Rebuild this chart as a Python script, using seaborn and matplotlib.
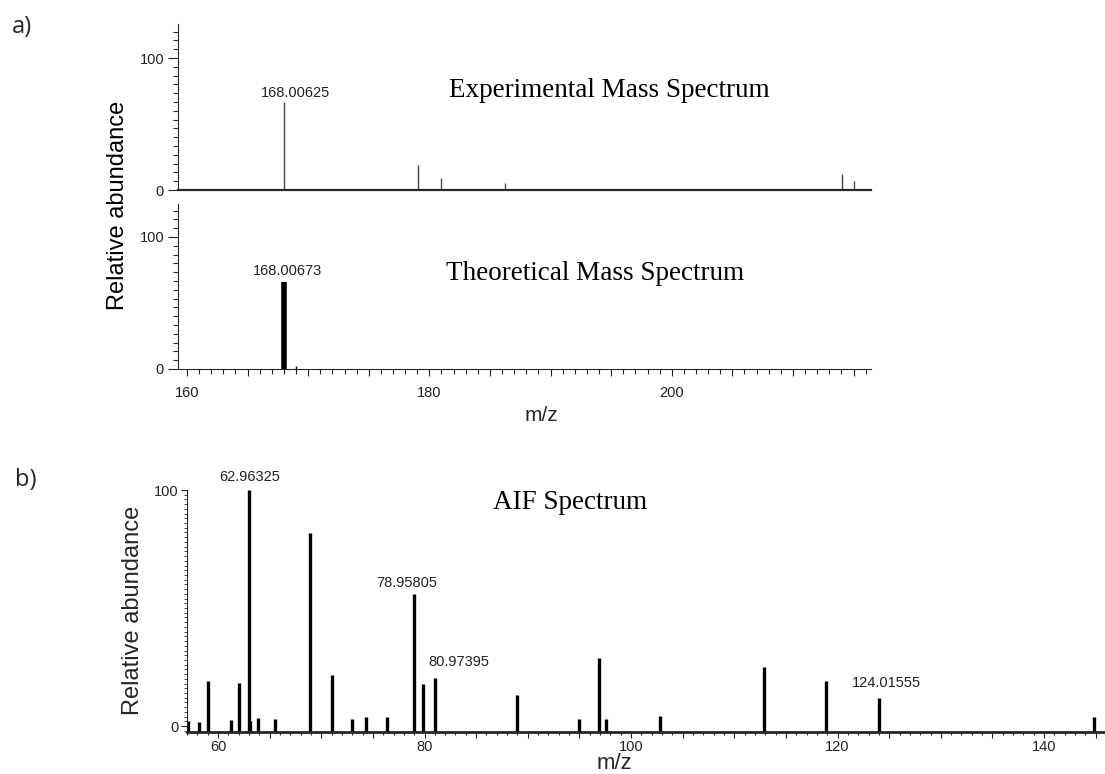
import numpy as np
import pandas as pd
import matplotlib
matplotlib.use("Agg")
import matplotlib.pyplot as plt
import seaborn as sns
from matplotlib.ticker import MultipleLocator, FuncFormatter, FixedLocator

# --- data ---
# a) experimental spectrum
exp_mz = [168.00625, 179.1, 181.0, 186.2, 214.05, 215.0]
exp_int = [66.7, 19.0, 9.3, 5.0, 12.1, 7.0]
# a) theoretical spectrum
theo_mz = [168.00673, 169.0]
theo_int = [66.0, 2.3]
# b) AIF spectrum
aif_mz = [57.1, 58.2, 59.0, 61.3, 62.0, 62.96325, 63.13, 63.9, 65.5, 68.95,
          71.0, 72.95, 74.35, 76.4, 78.95805, 79.9, 80.97395, 88.97, 95.0,
          96.85, 97.6, 102.85, 112.9, 118.9, 124.01555, 144.85]
aif_int = [2.1, 1.8, 19.1, 2.4, 18.4, 100.0, 2.1, 3.3, 3.0, 81.9,
           21.5, 3.0, 3.7, 3.7, 56.0, 18.0, 20.4, 13.2, 3.0,
           29.0, 3.0, 4.4, 25.2, 19.0, 12.0, 4.0]

# labelled peaks and label offsets (pixels)
exp_labels = [("168.00625", 168.00625, 66.7, 11, 5)]
theo_labels = [("168.00673", 168.00673, 66.0, 3, 7)]
aif_labels = [("62.96325", 62.96325, 100.0, 1, 9),
              ("78.95805", 78.95805, 56.0, -7, 7),
              ("80.97395", 80.97395, 20.4, 24, 12),
              ("124.01555", 124.01555, 12.0, 7, 11)]

exp_df = pd.DataFrame({"mz": exp_mz, "intensity": exp_int})
theo_df = pd.DataFrame({"mz": theo_mz, "intensity": theo_int})
aif_df = pd.DataFrame({"mz": aif_mz, "intensity": aif_int})

sns.set_theme(style="ticks")
plt.rcParams["font.family"] = ["Liberation Sans", "DejaVu Sans"]
plt.rcParams["axes.linewidth"] = 0.8

W, H = 1105, 774
fig = plt.figure(figsize=(W / 100, H / 100), dpi=100)


def box(l, t, r, b):
    return [l / W, 1 - b / H, (r - l) / W, (b - t) / H]


ax1 = fig.add_axes(box(178, 24, 871, 190))
ax2 = fig.add_axes(box(178, 204, 871, 369))
ax3 = fig.add_axes(box(187, 490, 1104, 731.7))

tick_col = "#222222"
for ax in (ax1, ax2, ax3):
    sns.despine(ax=ax)
    ax.set_facecolor("white")
    ax.tick_params(colors=tick_col, labelsize=10.5)

# a) experimental
ax1.vlines(exp_df["mz"], 0, exp_df["intensity"], color="#444444", lw=1.0)
ax1.set_xlim(159.26, 216.44)
ax1.set_ylim(0, 125.8)
ax1.spines["bottom"].set_linewidth(1.6)
ax1.set_xticks([])
ax1.yaxis.set_major_locator(FixedLocator([0, 100]))
ax1.yaxis.set_minor_locator(MultipleLocator(100 / 15))
ax1.tick_params(axis="y", which="major", length=7, width=0.8, pad=3)
ax1.tick_params(axis="y", which="minor", length=3.5, width=0.8)

# a) theoretical
ax2.vlines(theo_df["mz"], 0, theo_df["intensity"], color="black",
           lw=[4.0, 1.0])
ax2.set_xlim(159.26, 216.44)
ax2.set_ylim(0, 125)
ax2.yaxis.set_major_locator(FixedLocator([0, 100]))
ax2.yaxis.set_minor_locator(MultipleLocator(100 / 15))
ax2.tick_params(axis="y", which="major", length=7, width=0.8, pad=3)
ax2.tick_params(axis="y", which="minor", length=3.5, width=0.8)
ax2.xaxis.set_major_locator(MultipleLocator(5))
ax2.xaxis.set_minor_locator(MultipleLocator(1))
ax2.xaxis.set_major_formatter(
    FuncFormatter(lambda v, p: f"{v:.0f}" if round(v) % 20 == 0 else ""))
ax2.tick_params(axis="x", which="major", length=5, width=0.8, pad=7)
ax2.tick_params(axis="x", which="minor", length=3.5, width=0.8)
ax2.set_xlabel("m/z", fontsize=15)
ax2.xaxis.set_label_coords(0.525, -0.225)

for ax, labels in ((ax1, exp_labels), (ax2, theo_labels)):
    for txt, x, y, dx, dy in labels:
        ax.annotate(txt, xy=(x, y), xytext=(dx, dy), textcoords="offset pixels",
                    ha="center", va="baseline", fontsize=10.5, color=tick_col)

ax1.text(0.623, 0.6, "Experimental Mass Spectrum", transform=ax1.transAxes,
         family="Liberation Serif", fontsize=19.5, ha="center", va="center",
         color="black")
ax2.text(0.602, 0.58, "Theoretical Mass Spectrum", transform=ax2.transAxes,
         family="Liberation Serif", fontsize=19.5, ha="center", va="center",
         color="black")

# b) AIF
ax3.vlines(aif_df["mz"], -2.4, aif_df["intensity"], color="black", lw=2.4)
ax3.set_xlim(57.0, 145.8)
ax3.set_ylim(-2.4, 100)
ax3.spines["bottom"].set_linewidth(2.0)
ax3.yaxis.set_major_locator(FixedLocator([0, 100]))
ax3.yaxis.set_minor_locator(MultipleLocator(2))
ax3.tick_params(axis="y", which="major", length=4, width=0.8, pad=2)
ax3.tick_params(axis="y", which="minor", length=2, width=0.6)
ax3.xaxis.set_major_locator(MultipleLocator(5))
ax3.xaxis.set_minor_locator(MultipleLocator(1))
ax3.xaxis.set_major_formatter(
    FuncFormatter(lambda v, p: f"{v:.0f}" if round(v) % 20 == 0 else ""))
ax3.tick_params(axis="x", which="major", length=4, width=0.8, pad=2)
ax3.tick_params(axis="x", which="minor", length=2.5, width=0.8)
ax3.set_xlabel("m/z", fontsize=16)
ax3.xaxis.set_label_coords(0.466, -0.09)
ax3.set_ylabel("Relative abundance", fontsize=17, labelpad=7)

for txt, x, y, dx, dy in aif_labels:
    ax3.annotate(txt, xy=(x, y), xytext=(dx, dy), textcoords="offset pixels",
                 ha="center", va="baseline", fontsize=10.5, color=tick_col)

ax3.text(0.418, 0.95, "AIF Spectrum", transform=ax3.transAxes,
         family="Liberation Serif", fontsize=19.5, ha="center", va="center",
         color="black")

# shared y label and panel letters
fig.text(118 / W, 1 - 205 / H, "Relative abundance", rotation=90,
         fontsize=17, ha="center", va="center", color="black")
fig.text(22 / W, 1 - 27 / H, "a)", fontsize=17, ha="center", va="center",
         family="Open Sans")
fig.text(26 / W, 1 - 480 / H, "b)", fontsize=17, ha="center", va="center",
         family="Open Sans")

fig.savefig("out.png", dpi=100, facecolor="white")
